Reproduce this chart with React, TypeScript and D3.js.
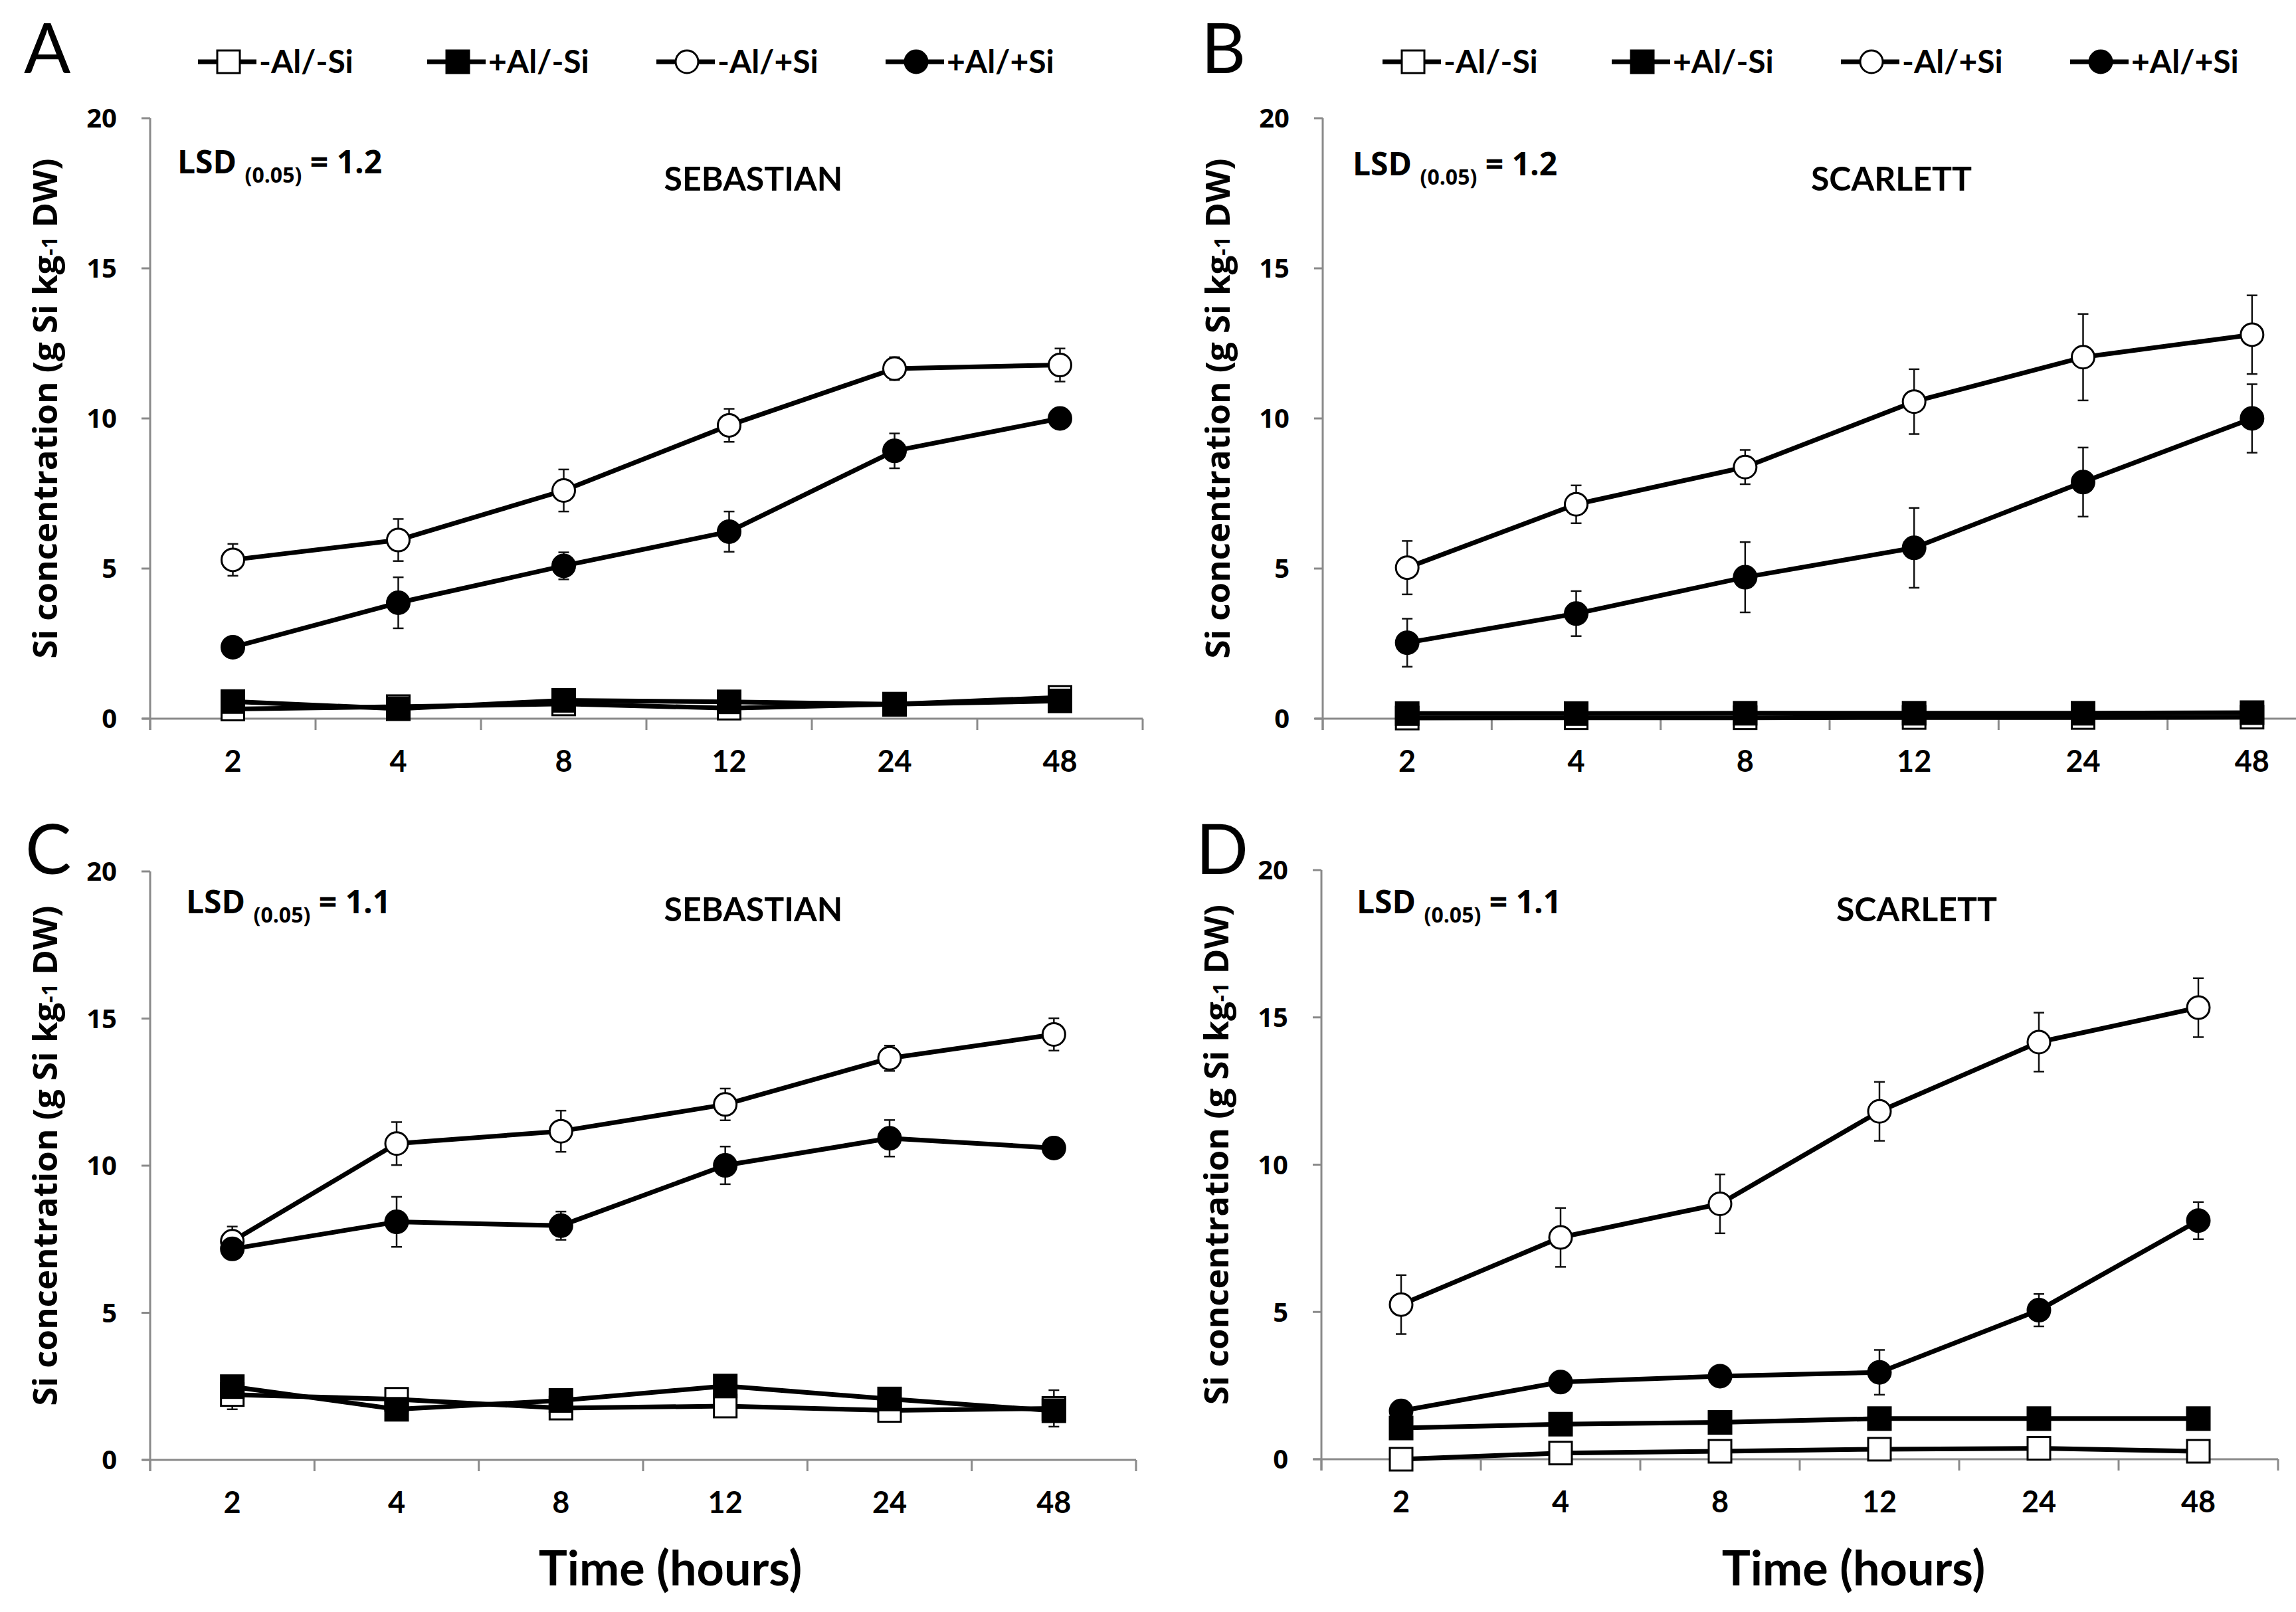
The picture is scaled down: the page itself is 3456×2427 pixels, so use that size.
import * as d3 from 'd3';

// time points (hours) and treatments
const timeLabels = ['2', '4', '8', '12', '24', '48'];
const seriesLabels = ['-Al/-Si', '+Al/-Si', '-Al/+Si', '+Al/+Si'];
const seriesShapes = ['square', 'square', 'circle', 'circle'];
const seriesFilled = [false, true, false, true];
const yTicks = [0, 5, 10, 15, 20];

// A - SEBASTIAN
const aNoAlNoSi = [0.32, 0.4, 0.49, 0.35, 0.48, 0.71];
const aNoAlNoSiErr = [0.1, 0.1, 0.1, 0.1, 0.1, 0.1];
const aAlNoSi = [0.57, 0.33, 0.61, 0.56, 0.48, 0.59];
const aAlNoSiErr = [0.1, 0.1, 0.1, 0.1, 0.1, 0.1];
const aNoAlSi = [5.29, 5.95, 7.6, 9.77, 11.66, 11.78];
const aNoAlSiErr = [0.53, 0.7, 0.7, 0.55, 0.38, 0.55];
const aAlSi = [2.38, 3.86, 5.09, 6.23, 8.92, 10.0];
const aAlSiErr = [0.2, 0.85, 0.45, 0.67, 0.58, 0.2];

// B - SCARLETT
const bNoAlNoSi = [0.02, 0.03, 0.03, 0.04, 0.04, 0.05];
const bNoAlNoSiErr = [0.05, 0.05, 0.05, 0.05, 0.05, 0.05];
const bAlNoSi = [0.17, 0.17, 0.18, 0.18, 0.18, 0.2];
const bAlNoSiErr = [0.05, 0.05, 0.05, 0.05, 0.05, 0.05];
const bNoAlSi = [5.03, 7.14, 8.38, 10.56, 12.04, 12.79];
const bNoAlSiErr = [0.89, 0.63, 0.57, 1.08, 1.44, 1.31];
const bAlSi = [2.53, 3.5, 4.71, 5.69, 7.88, 10.0];
const bAlSiErr = [0.8, 0.75, 1.17, 1.33, 1.15, 1.14];

// C - SEBASTIAN
const cNoAlNoSi = [2.22, 2.06, 1.76, 1.83, 1.68, 1.75];
const cNoAlNoSiErr = [0.5, 0.15, 0.15, 0.15, 0.15, 0.62];
const cAlNoSi = [2.49, 1.72, 2.02, 2.51, 2.07, 1.67];
const cAlNoSiErr = [0.1, 0.1, 0.1, 0.1, 0.1, 0.1];
const cNoAlSi = [7.43, 10.75, 11.17, 12.08, 13.65, 14.46];
const cNoAlSiErr = [0.5, 0.73, 0.7, 0.54, 0.43, 0.55];
const cAlSi = [7.17, 8.09, 7.96, 10.01, 10.93, 10.6];
const cAlSiErr = [0.2, 0.85, 0.48, 0.64, 0.62, 0.2];

// D - SCARLETT
const dNoAlNoSi = [0.0, 0.21, 0.27, 0.34, 0.37, 0.27];
const dNoAlNoSiErr = [0.05, 0.05, 0.05, 0.05, 0.05, 0.05];
const dAlNoSi = [1.06, 1.19, 1.25, 1.38, 1.38, 1.38];
const dAlNoSiErr = [0.1, 0.1, 0.1, 0.1, 0.1, 0.1];
const dNoAlSi = [5.25, 7.53, 8.67, 11.81, 14.16, 15.33];
const dNoAlSiErr = [1.0, 1.0, 1.0, 1.0, 1.0, 1.0];
const dAlSi = [1.64, 2.62, 2.82, 2.95, 5.06, 8.1];
const dAlSiErr = [0.15, 0.15, 0.2, 0.76, 0.55, 0.63];

const W = 3456;
const H = 2427;
const AXIS = '#8a8a8a';
const BOLD = "'Open Sans', 'Noto Sans', sans-serif";
const NARROW = "Lato, 'Noto Sans', sans-serif";

const panels = [
  {
    letter: 'A', title: 'SEBASTIAN', lsd: '1.2',
    values: [aNoAlNoSi, aAlNoSi, aNoAlSi, aAlSi],
    errors: [aNoAlNoSiErr, aAlNoSiErr, aNoAlSiErr, aAlSiErr],
    left: 226, right: 1720, top: 178, bottom: 1082,
    letterPos: [36, 110], legendX: 344, legendY: 93,
    lsdPos: [267, 261], titlePos: [1134, 287], xLabelX: null,
  },
  {
    letter: 'B', title: 'SCARLETT', lsd: '1.2',
    values: [bNoAlNoSi, bAlNoSi, bNoAlSi, bAlSi],
    errors: [bNoAlNoSiErr, bAlNoSiErr, bNoAlSiErr, bAlSiErr],
    left: 1991, right: 3517, top: 178, bottom: 1082,
    letterPos: [1808, 110], legendX: 2127, legendY: 93,
    lsdPos: [2036, 264], titlePos: [2847, 287], xLabelX: null,
  },
  {
    letter: 'C', title: 'SEBASTIAN', lsd: '1.1',
    values: [cNoAlNoSi, cAlNoSi, cNoAlSi, cAlSi],
    errors: [cNoAlNoSiErr, cAlNoSiErr, cNoAlSiErr, cAlSiErr],
    left: 226, right: 1710, top: 1312, bottom: 2198,
    letterPos: [38, 1316], legendX: null, legendY: 0,
    lsdPos: [280, 1375], titlePos: [1134, 1387], xLabelX: 1009,
  },
  {
    letter: 'D', title: 'SCARLETT', lsd: '1.1',
    values: [dNoAlNoSi, dAlNoSi, dNoAlSi, dAlSi],
    errors: [dNoAlNoSiErr, dAlNoSiErr, dNoAlSiErr, dAlSiErr],
    left: 1989, right: 3429, top: 1310, bottom: 2197,
    letterPos: [1800, 1316], legendX: null, legendY: 0,
    lsdPos: [2042, 1375], titlePos: [2885, 1387], xLabelX: 2790,
  },
];

const R = 17;

function Marker({ shape, filled, cx, cy }: { shape: string; filled: boolean; cx: number; cy: number }) {
  const fill = filled ? '#000' : '#fff';
  if (shape === 'square') {
    return <rect x={cx - R} y={cy - R} width={2 * R} height={2 * R} fill={fill} stroke="#000" strokeWidth={3} />;
  }
  return <circle cx={cx} cy={cy} r={R} fill={fill} stroke="#000" strokeWidth={3} />;
}

function Panel({ p }: { p: (typeof panels)[number] }) {
  const x = d3.scaleBand<string>().domain(timeLabels).range([p.left, p.right]);
  const y = d3.scaleLinear().domain([0, 20]).range([p.bottom, p.top]);
  const cx = (i: number) => (x(timeLabels[i]) as number) + x.bandwidth() / 2;
  const line = d3.line<number>().x((_, i) => cx(i)).y(d => y(d));
  const boundaries = [...timeLabels.map(t => x(t) as number), p.right];
  const midY = (p.top + p.bottom) / 2 - 15;

  return (
    <g>
      <text x={p.letterPos[0]} y={p.letterPos[1]} fontFamily={NARROW} fontSize={104} fontWeight={400}>{p.letter}</text>

      {p.legendX !== null && seriesLabels.map((s, i) => {
        const mx = (p.legendX as number) + i * 345;
        return (
          <g key={s}>
            <line x1={mx - 46} x2={mx + 42} y1={p.legendY} y2={p.legendY} stroke="#000" strokeWidth={7} />
            <Marker shape={seriesShapes[i]} filled={seriesFilled[i]} cx={mx} cy={p.legendY} />
            <text x={mx + 46} y={p.legendY + 17} fontFamily={NARROW} fontWeight={700} fontSize={48}>{s}</text>
          </g>
        );
      })}

      {/* axes */}
      <line x1={p.left} x2={p.left} y1={p.top} y2={p.bottom + 17} stroke={AXIS} strokeWidth={3} />
      <line x1={p.left - 12} x2={p.right} y1={p.bottom} y2={p.bottom} stroke={AXIS} strokeWidth={3} />
      {yTicks.map(t => (
        <g key={t}>
          <line x1={p.left - 13} x2={p.left} y1={y(t)} y2={y(t)} stroke={AXIS} strokeWidth={3} />
          <text x={p.left - 50} y={y(t)} dy="0.36em" textAnchor="end" fontFamily={BOLD} fontWeight={700} fontSize={40}>{t}</text>
        </g>
      ))}
      {boundaries.map((b, i) => (
        <line key={i} x1={b} x2={b} y1={p.bottom} y2={p.bottom + 17} stroke={AXIS} strokeWidth={3} />
      ))}
      {timeLabels.map((t, i) => (
        <text key={t} x={cx(i)} y={p.bottom + 80} textAnchor="middle" fontFamily={NARROW} fontWeight={700} fontSize={45}>{t}</text>
      ))}

      <text transform={`translate(${p.left - 140},${midY}) rotate(-90)`} textAnchor="middle"
        fontFamily={BOLD} fontWeight={700} fontSize={51}>
        Si concentration (g Si kg<tspan fontSize={32}>-1</tspan> DW)
      </text>

      <text x={p.lsdPos[0]} y={p.lsdPos[1]} fontFamily={BOLD} fontWeight={700} fontSize={48}>
        LSD <tspan fontSize={32} dy={14}>(0.05)</tspan><tspan dy={-14}> = {p.lsd}</tspan>
      </text>
      <text x={p.titlePos[0]} y={p.titlePos[1]} textAnchor="middle" fontFamily={NARROW} fontWeight={700} fontSize={50}>{p.title}</text>

      {p.xLabelX !== null && (
        <text x={p.xLabelX} y={2387} textAnchor="middle" fontFamily={NARROW} fontWeight={700} fontSize={72}>Time (hours)</text>
      )}

      {/* series */}
      {p.values.map((vals, s) => (
        <g key={s}>
          <path d={line(vals) as string} fill="none" stroke="#000" strokeWidth={7} strokeLinejoin="round" />
          {vals.map((v, i) => {
            const e = p.errors[s][i];
            return (
              <g key={i} stroke="#111" strokeWidth={2.5}>
                <line x1={cx(i)} x2={cx(i)} y1={y(v + e)} y2={y(Math.max(0, v - e))} />
                <line x1={cx(i) - 8} x2={cx(i) + 8} y1={y(v + e)} y2={y(v + e)} />
                <line x1={cx(i) - 8} x2={cx(i) + 8} y1={y(Math.max(0, v - e))} y2={y(Math.max(0, v - e))} />
              </g>
            );
          })}
          {vals.map((v, i) => (
            <Marker key={i} shape={seriesShapes[s]} filled={seriesFilled[s]} cx={cx(i)} cy={y(v)} />
          ))}
        </g>
      ))}
    </g>
  );
}

export default function App() {
  return (
    <svg width={W} height={H} viewBox={`0 0 ${W} ${H}`}
      style={{ position: 'absolute', left: 0, top: 0, background: '#fff' }}>
      <rect width={W} height={H} fill="#fff" />
      {panels.map(p => <Panel key={p.letter} p={p} />)}
    </svg>
  );
}
